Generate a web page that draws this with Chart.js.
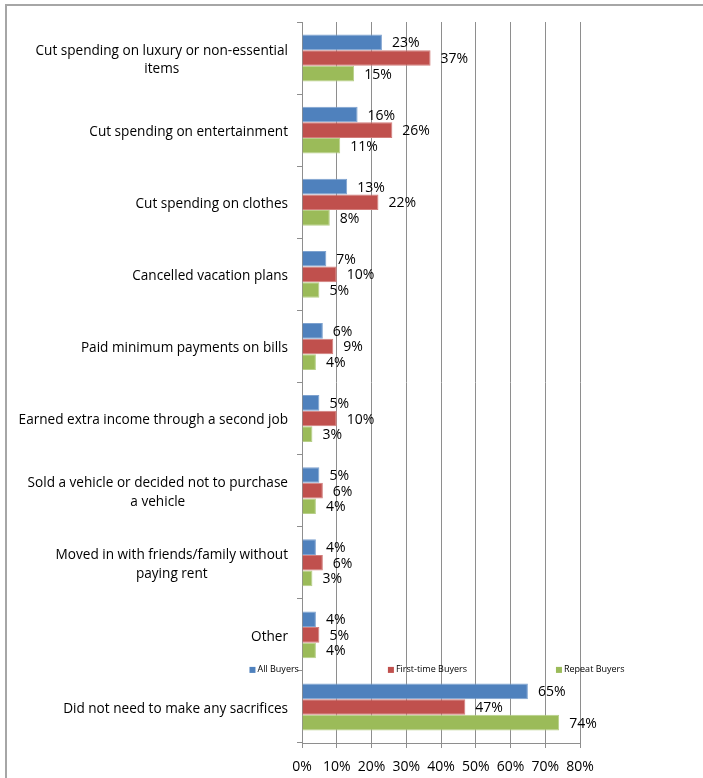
<!DOCTYPE html>
<html>
<head>
<meta charset="utf-8">
<script src="https://cdn.jsdelivr.net/npm/chart.js@4.4.1/dist/chart.umd.min.js"></script>
<style>
html, body { margin: 0; padding: 0; background: #fff; overflow: hidden; }
#frame { position: absolute; left: 5px; top: 4px; width: 760px; height: 840px; border: 2px solid #a6a6a6; }
#myChart { position: absolute; left: 0; top: 0; }
</style>
</head>
<body>
<div id="frame"></div>
<canvas id="myChart" width="703" height="778"></canvas>
<script>
const categories = [
  ['Cut spending on luxury or non-essential', 'items'],
  'Cut spending on entertainment',
  'Cut spending on clothes',
  'Cancelled vacation plans',
  'Paid minimum payments on bills',
  'Earned extra income through a second job',
  ['Sold a vehicle or decided not to purchase', 'a vehicle'],
  ['Moved in with friends/family without', 'paying rent'],
  'Other',
  'Did not need to make any sacrifices'
];
const allBuyers       = [23, 16, 13, 7, 6, 5, 5, 4, 4, 65];
const firstTimeBuyers = [37, 26, 22, 10, 9, 10, 6, 6, 5, 47];
const repeatBuyers    = [15, 11, 8, 5, 4, 3, 4, 3, 4, 74];
const xTicks = [0, 10, 20, 30, 40, 50, 60, 70, 80];

const FONT = '"Open Sans", "DejaVu Sans", sans-serif';
const GRID = '#8e8e8e';

// category names, drawn by hand so wrapped lines sit centred on each other
const categoryLabels = {
  id: 'categoryLabels',
  afterDraw(chart) {
    const ys = chart.scales.y;
    const c = chart.ctx;
    c.save();
    c.font = '13.6px ' + FONT;
    c.fillStyle = '#000';
    c.textAlign = 'center';
    c.textBaseline = 'middle';
    categories.forEach(function(lbl, i) {
      const lines = Array.isArray(lbl) ? lbl : [lbl];
      const w = Math.max.apply(null, lines.map(l => c.measureText(l).width));
      const cx = ys.right - 14 - w / 2;
      const yc = ys.getPixelForValue(i) + 2;
      const lh = 18.5;
      lines.forEach(function(l, j) {
        c.fillText(l, cx, yc - (lines.length - 1) * lh / 2 + j * lh);
      });
    });
    c.restore();
  }
};

// percentage next to the end of every bar
const valueLabels = {
  id: 'valueLabels',
  afterDatasetsDraw(chart) {
    const c = chart.ctx;
    c.save();
    c.font = '14px ' + FONT;
    c.fillStyle = '#000';
    c.textAlign = 'left';
    c.textBaseline = 'middle';
    chart.data.datasets.forEach(function(ds, di) {
      chart.getDatasetMeta(di).data.forEach(function(bar, i) {
        c.fillText(ds.data[i] + '%', bar.x + 10, bar.y + 1);
      });
    });
    c.restore();
  }
};

// small legend strip sitting between the last two categories
const innerLegend = {
  id: 'innerLegend',
  afterDraw(chart) {
    const c = chart.ctx;
    const ys = chart.scales.y;
    const y = (ys.getPixelForValue(8) + ys.getPixelForValue(9)) / 2 - 1;
    c.save();
    c.font = '9px ' + FONT;
    c.textBaseline = 'middle';
    c.textAlign = 'left';
    const box = 6, pad = 2, gap = 89;
    const items = chart.data.datasets.map(ds => ({
      text: ds.label, color: ds.backgroundColor, w: box + pad + c.measureText(ds.label).width
    }));
    const total = items.reduce((s, it) => s + it.w, 0) + gap * (items.length - 1);
    let x = 437 - total / 2;
    items.forEach(function(it) {
      c.fillStyle = it.color;
      c.fillRect(x, y - box / 2, box, box);
      c.fillStyle = '#000';
      c.fillText(it.text, x + box + pad, y);
      x += it.w + gap;
    });
    c.restore();
  }
};

const ctx = document.getElementById('myChart');
new Chart(ctx, {
  type: 'bar',
  data: {
    labels: categories,
    datasets: [
      { label: 'All Buyers', data: allBuyers, backgroundColor: '#4F81BD', borderColor: '#7EA2CF', borderWidth: 1 },
      { label: 'First-time Buyers', data: firstTimeBuyers, backgroundColor: '#C0504D', borderColor: '#D27D7B', borderWidth: 1 },
      { label: 'Repeat Buyers', data: repeatBuyers, backgroundColor: '#9BBB59', borderColor: '#B7CF88', borderWidth: 1 }
    ]
  },
  options: {
    indexAxis: 'y',
    responsive: false,
    animation: false,
    categoryPercentage: 0.65,
    barPercentage: 1,
    layout: { padding: { left: 297, top: 22, right: 123, bottom: 0 } },
    plugins: {
      legend: { display: false },
      tooltip: { enabled: false }
    },
    scales: {
      x: {
        min: 0,
        max: 80,
        afterBuildTicks: function(scale) {
          scale.ticks = xTicks.map(v => ({ value: v }));
        },
        afterFit: function(scale) {
          scale.height = 35;
        },
        grid: { color: GRID, lineWidth: 1, tickLength: 5 },
        border: { color: GRID },
        ticks: {
          color: '#000',
          padding: 12,
          font: { family: FONT, size: 14, lineHeight: 1 },
          callback: v => v + '%'
        }
      },
      y: {
        grid: { display: true, drawOnChartArea: false, offset: true, tickLength: 5, color: GRID },
        border: { color: GRID },
        ticks: { display: false }
      }
    }
  },
  plugins: [categoryLabels, valueLabels, innerLegend]
});
</script>
</body>
</html>
